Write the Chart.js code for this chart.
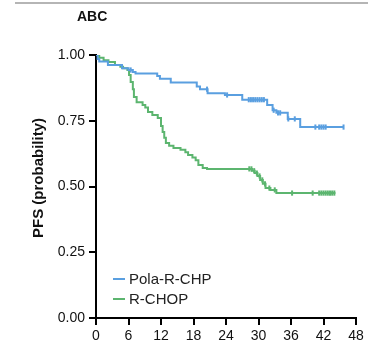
<!DOCTYPE html>
<html>
<head>
<meta charset="utf-8">
<script src="https://cdn.jsdelivr.net/npm/chart.js@4"></script>
<style>
  html, body { margin: 0; padding: 0; background: #fff; }
  #wrap { position: relative; width: 381px; height: 348px; }
</style>
</head>
<body>
<div id="wrap"><canvas id="pfsChart" width="381" height="348"></canvas></div>
<script>
// Kaplan-Meier steps (months, probability)
const polaTimes = [0, 0.3, 0.6, 2.2, 4.8, 6.0, 6.8, 7.3, 11.3, 11.8, 13.8, 18.6, 19.2, 20.6, 23.8, 27.0, 31.6, 32.6, 33.3, 35.4, 37.7, 45.7];
const polaSurv  = [1.0, 0.985, 0.975, 0.962, 0.95, 0.943, 0.935, 0.93, 0.92, 0.91, 0.895, 0.88, 0.87, 0.855, 0.848, 0.83, 0.81, 0.79, 0.78, 0.757, 0.726, 0.726];
const polaCensor = [6.4, 20.5, 24.2, 28.2, 28.6, 29.0, 29.4, 29.8, 30.2, 30.6, 31.0, 32.8, 33.6, 34.0, 35.5, 36.7, 40.5, 41.2, 41.6, 42.0, 42.4, 45.7];

const chopTimes = [0, 0.6, 1.4, 2.3, 3.5, 4.5, 5.0, 5.8, 6.1, 6.4, 6.8, 7.0, 7.5, 8.6, 9.1, 9.6, 10.4, 11.4, 12.0, 12.3, 12.6, 12.9, 13.5, 14.3, 15.6, 16.5, 17.0, 17.8, 18.4, 18.9, 19.7, 20.5, 28.8, 29.3, 29.8, 30.3, 30.8, 31.3, 32.2, 33.3, 44.2];
const chopSurv  = [1.0, 0.99, 0.98, 0.973, 0.962, 0.955, 0.95, 0.943, 0.924, 0.897, 0.87, 0.84, 0.82, 0.81, 0.8, 0.783, 0.772, 0.76, 0.73, 0.707, 0.685, 0.665, 0.655, 0.646, 0.64, 0.63, 0.62, 0.61, 0.6, 0.582, 0.57, 0.567, 0.56, 0.551, 0.54, 0.525, 0.51, 0.494, 0.487, 0.475, 0.475];
const chopCensor = [28.3, 28.7, 29.2, 29.7, 30.2, 30.7, 31.2, 32.0, 33.0, 36.2, 40.0, 41.2, 41.6, 42.0, 42.4, 42.8, 43.2, 43.6, 44.0];

const xTicks = [0, 6, 12, 18, 24, 30, 36, 42, 48];
const yTicks = [0, 0.25, 0.5, 0.75, 1.0];

const seriesNames = ['Pola-R-CHP', 'R-CHOP'];
const BLUE = '#5a9fe0';
const GREEN = '#5cb56f';

function toPoints(times, surv) {
    return times.map((t, i) => ({ x: t, y: surv[i] }));
}

// survival value at time t from a step curve
function survAt(times, surv, t) {
    let v = surv[0];
    for (let i = 0; i < times.length; i++) {
        if (times[i] <= t) v = surv[i];
    }
    return v;
}

function censorPoints(cens, times, surv) {
    return cens.map(t => ({ x: t, y: survAt(times, surv, t) }));
}

// thin grey rule at the top, the "ABC" label, y title and the in-plot legend
const decorPlugin = {
    id: 'decor',
    beforeDraw(chart) {
        const ctx = chart.ctx;
        ctx.save();
        ctx.fillStyle = '#fff';
        ctx.fillRect(0, 0, chart.width, chart.height);
        ctx.strokeStyle = '#b5b5b5';
        ctx.lineWidth = 2;
        ctx.beginPath();
        ctx.moveTo(15, 3);
        ctx.lineTo(368, 3);
        ctx.stroke();
        ctx.restore();
    },
    afterDraw(chart) {
        const ctx = chart.ctx;
        ctx.save();
        ctx.fillStyle = '#111';
        ctx.font = 'bold 14px "Liberation Sans", Arial, sans-serif';
        ctx.textBaseline = 'middle';
        ctx.textAlign = 'left';
        ctx.fillText('ABC', 77, 17);

        // y axis title
        ctx.translate(39, 178);
        ctx.rotate(-Math.PI / 2);
        ctx.textAlign = 'center';
        ctx.font = 'bold 15px "Liberation Sans", Arial, sans-serif';
        ctx.fillText('PFS (probability)', 0, 0);
        ctx.restore();

        // legend
        ctx.save();
        const colors = [BLUE, GREEN];
        const rows = [279, 299];
        ctx.font = '15px "Liberation Sans", Arial, sans-serif';
        ctx.textBaseline = 'middle';
        ctx.textAlign = 'left';
        seriesNames.forEach((name, i) => {
            ctx.strokeStyle = colors[i];
            ctx.lineWidth = 2;
            ctx.beginPath();
            ctx.moveTo(113, rows[i]);
            ctx.lineTo(125, rows[i]);
            ctx.stroke();
            ctx.fillStyle = '#222';
            ctx.fillText(name, 129, rows[i] + 1);
        });
        ctx.restore();
    }
};

const censorStyle = {
    type: 'scatter',
    showLine: false,
    pointStyle: 'line',
    rotation: 90,
    pointRadius: 2.6,
    pointBorderWidth: 2
};

new Chart(document.getElementById('pfsChart'), {
    type: 'line',
    data: {
        datasets: [
            {
                label: seriesNames[0],
                data: toPoints(polaTimes, polaSurv),
                borderColor: BLUE,
                borderWidth: 2,
                stepped: true,
                pointRadius: 0
            },
            {
                label: seriesNames[1],
                data: toPoints(chopTimes, chopSurv),
                borderColor: GREEN,
                borderWidth: 2,
                stepped: true,
                pointRadius: 0
            },
            Object.assign({
                label: seriesNames[0] + ' censored',
                data: censorPoints(polaCensor, polaTimes, polaSurv),
                borderColor: BLUE,
                backgroundColor: BLUE
            }, censorStyle),
            Object.assign({
                label: seriesNames[1] + ' censored',
                data: censorPoints(chopCensor, chopTimes, chopSurv),
                borderColor: GREEN,
                backgroundColor: GREEN
            }, censorStyle)
        ]
    },
    options: {
        responsive: false,
        animation: false,
        layout: { padding: { top: 55, right: 25, bottom: 0, left: 0 } },
        plugins: {
            legend: { display: false },
            tooltip: { enabled: false }
        },
        scales: {
            x: {
                type: 'linear',
                min: 0,
                max: 48,
                afterBuildTicks: scale => { scale.ticks = xTicks.map(v => ({ value: v })); },
                afterFit: scale => { scale.height = 30; },
                ticks: {
                    color: '#111',
                    padding: 3,
                    font: { family: '"Liberation Sans", Arial, sans-serif', size: 14 }
                },
                grid: {
                    drawOnChartArea: false,
                    color: '#000',
                    lineWidth: 2,
                    tickLength: 7
                },
                border: { color: '#000', width: 2 }
            },
            y: {
                type: 'linear',
                min: 0,
                max: 1,
                afterBuildTicks: scale => { scale.ticks = yTicks.map(v => ({ value: v })); },
                afterFit: scale => { scale.width = 96; },
                ticks: {
                    color: '#111',
                    padding: 4,
                    callback: v => v.toFixed(2),
                    font: { family: '"Liberation Sans", Arial, sans-serif', size: 14 }
                },
                grid: {
                    drawOnChartArea: false,
                    color: '#000',
                    lineWidth: 2,
                    tickLength: 7
                },
                border: { color: '#000', width: 2 }
            }
        }
    },
    plugins: [decorPlugin]
});
</script>
</body>
</html>
